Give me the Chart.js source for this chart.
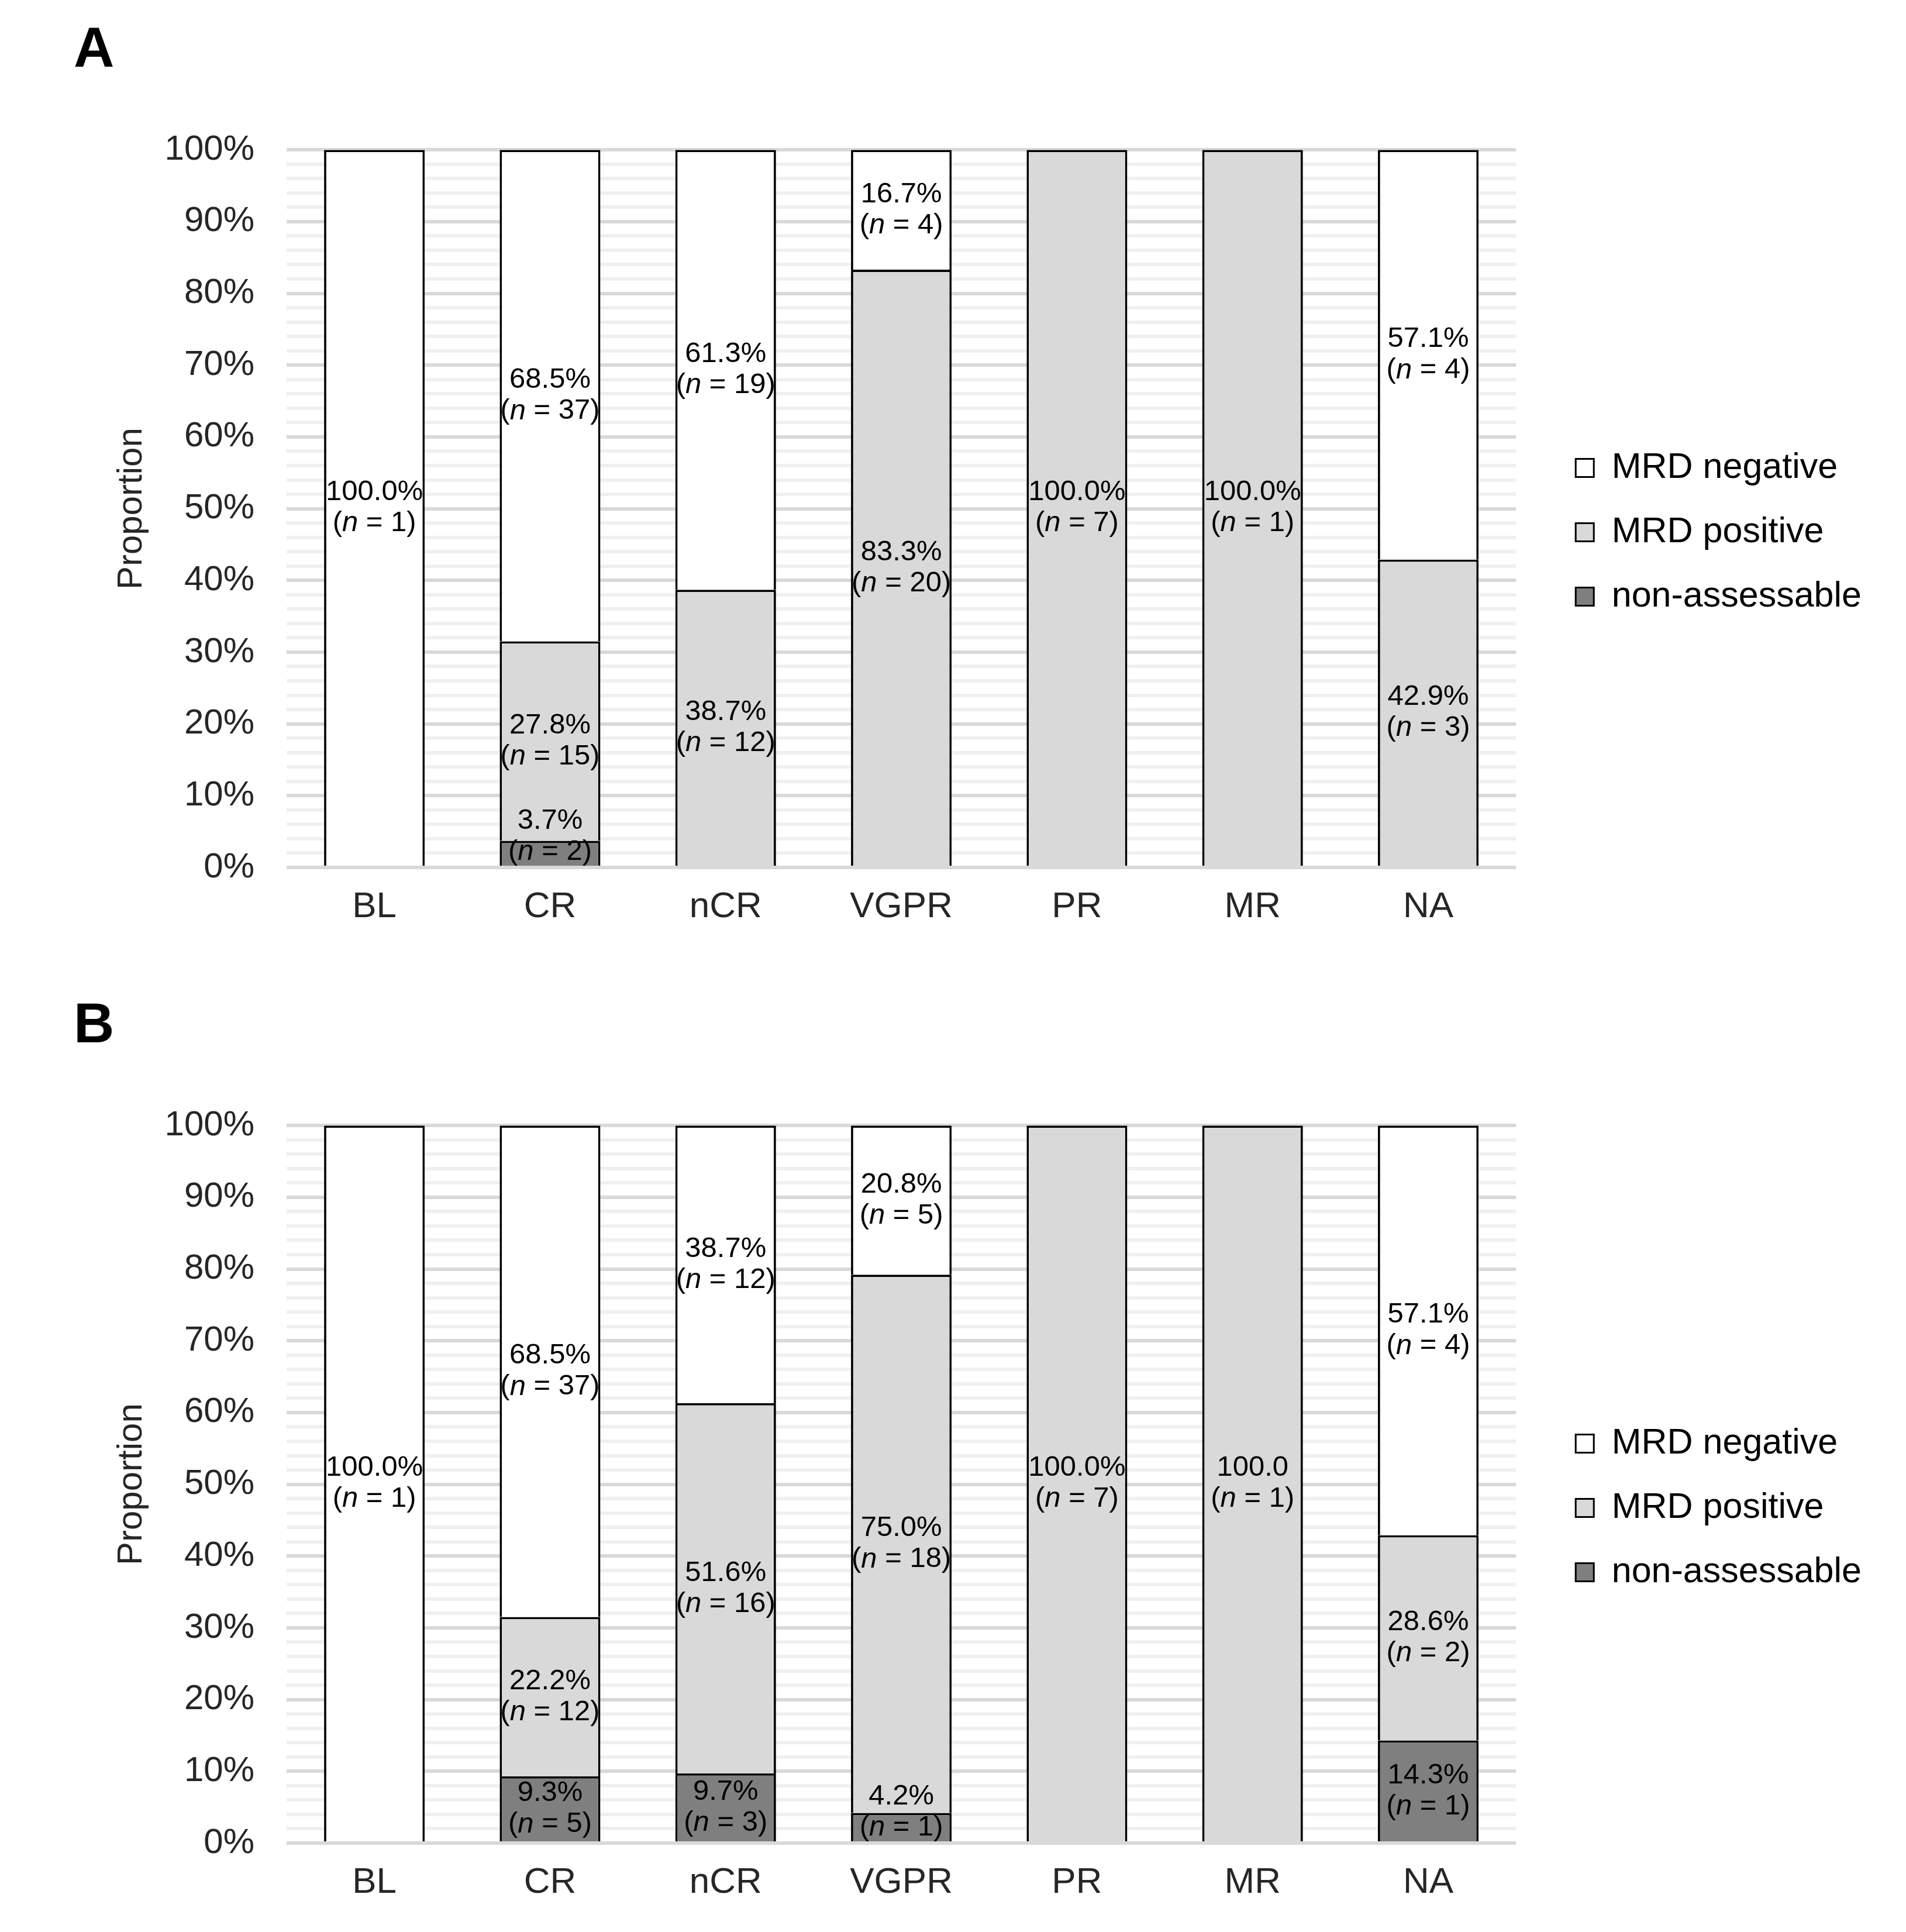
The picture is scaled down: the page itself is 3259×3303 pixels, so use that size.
<!DOCTYPE html>
<html>
<head>
<meta charset="utf-8">
<script src="https://cdn.jsdelivr.net/npm/chart.js@4.4.1/dist/chart.umd.min.js"></script>
<style>
  html, body { margin: 0; padding: 0; background: #ffffff; }
  canvas { position: absolute; left: 0; }
  #panelA { top: 0; }
  #panelB { top: 1668px; }
</style>
</head>
<body>
<canvas id="panelA" width="3259" height="1635"></canvas>
<canvas id="panelB" width="3259" height="1635"></canvas>
<script>
// Categories (response groups)
const categories = ["BL", "CR", "nCR", "VGPR", "PR", "MR", "NA"];

// Panel A - percentages
const negA = [100.0, 68.5, 61.3, 16.7, 0, 0, 57.1];
const posA = [0, 27.8, 38.7, 83.3, 100.0, 100.0, 42.9];
const nonA = [0, 3.7, 0, 0, 0, 0, 0];
// Panel A - patient counts
const nNegA = [1, 37, 19, 4, 0, 0, 4];
const nPosA = [0, 15, 12, 20, 7, 1, 3];
const nNonA = [0, 2, 0, 0, 0, 0, 0];

// Panel B - percentages
const negB = [100.0, 68.5, 38.7, 20.8, 0, 0, 57.1];
const posB = [0, 22.2, 51.6, 75.0, 100.0, 100.0, 28.6];
const nonB = [0, 9.3, 9.7, 4.2, 0, 0, 14.3];
// Panel B - patient counts
const nNegB = [1, 37, 12, 5, 0, 0, 4];
const nPosB = [0, 12, 16, 18, 7, 1, 2];
const nNonB = [0, 5, 3, 1, 0, 0, 1];

// labels printed without the "%" sign in the original figure
const noPercentB = { "MRD positive": ["MR"] };

const yTicks = [0, 10, 20, 30, 40, 50, 60, 70, 80, 90, 100];

const FONT = "'Liberation Sans', Arial, Helvetica, sans-serif";
const TEXT = "#262626";

// Draws "xx.x%" and "(n = k)" in the middle of each stacked segment
const segmentLabels = {
  id: "segmentLabels",
  afterDatasetsDraw(chart, args, opts) {
    const ctx = chart.ctx;
    const zeroY = chart.scales.y.getPixelForValue(0);
    const size = opts.size || 49;
    const lineGap = opts.lineGap || 53;
    const plain = opts.plain || {};

    ctx.save();
    ctx.fillStyle = "#000";
    ctx.textBaseline = "middle";
    chart.data.datasets.forEach((ds, di) => {
      const meta = chart.getDatasetMeta(di);
      meta.data.forEach((bar, i) => {
        const v = ds.data[i];
        if (!v) return;
        const cx = bar.x;
        // keep the label block above the axis for thin segments
        const cy = Math.min((bar.y + bar.base) / 2, zeroY - lineGap);
        const noPct = (plain[ds.label] || []).includes(chart.data.labels[i]);
        const first = v.toFixed(1) + (noPct ? "" : "%");

        ctx.font = size + "px " + FONT;
        ctx.textAlign = "center";
        ctx.fillText(first, cx, cy - lineGap / 2);

        // second line with italic n
        const a = "(", b = "n", c = " = " + ds.counts[i] + ")";
        ctx.font = size + "px " + FONT;
        const wa = ctx.measureText(a).width;
        const wc = ctx.measureText(c).width;
        ctx.font = "italic " + size + "px " + FONT;
        const wb = ctx.measureText(b).width;
        let x = cx - (wa + wb + wc) / 2;
        ctx.textAlign = "left";
        ctx.font = size + "px " + FONT;
        ctx.fillText(a, x, cy + lineGap / 2);
        x += wa;
        ctx.font = "italic " + size + "px " + FONT;
        ctx.fillText(b, x, cy + lineGap / 2);
        x += wb;
        ctx.font = size + "px " + FONT;
        ctx.fillText(c, x, cy + lineGap / 2);
      });
    });
    ctx.restore();
  },
};

function buildPanel(canvasId, letter, neg, pos, non, nNeg, nPos, nNon, plain) {
  const ctx = document.getElementById(canvasId);

  return new Chart(ctx, {
    type: "bar",
    data: {
      labels: categories,
      datasets: [
        {
          label: "non-assessable",
          data: non,
          counts: nNon,
          backgroundColor: "#7f7f7f",
          yAxisID: "y",
        },
        {
          label: "MRD positive",
          data: pos,
          counts: nPos,
          backgroundColor: "#d9d9d9",
          yAxisID: "y",
        },
        {
          label: "MRD negative",
          data: neg,
          counts: nNeg,
          backgroundColor: "#ffffff",
          yAxisID: "y",
        },
      ],
    },
    options: {
      responsive: false,
      animation: false,
      devicePixelRatio: 1,
      layout: {
        padding: { left: 126, right: 66, top: 0, bottom: 47 },
      },
      datasets: {
        bar: {
          categoryPercentage: 1,
          barPercentage: 0.573,
          borderColor: "#000000",
          borderWidth: (c) => (c.raw > 0 ? 3.8 : 0),
        },
      },
      scales: {
        x: {
          stacked: true,
          grid: { display: false, drawTicks: false },
          border: { display: false },
          ticks: {
            color: TEXT,
            padding: 31,
            font: { family: FONT, size: 62 },
          },
          afterFit: (s) => {
            s.height = 105;
          },
        },
        y: {
          stacked: true,
          min: 0,
          max: 100,
          border: { display: false },
          grid: {
            drawTicks: false,
            lineWidth: 6,
            color: (c) =>
              yTicks.includes(Math.round(c.tick.value)) ? "#d9d9d9" : "#f0f0f0",
          },
          ticks: {
            stepSize: 2,
            autoSkip: false,
            padding: 55,
            color: TEXT,
            font: { family: FONT, size: 60 },
            callback: (v) => (yTicks.includes(Math.round(v)) ? Math.round(v) + "%" : ""),
          },
          title: {
            display: true,
            text: "Proportion",
            color: TEXT,
            font: { family: FONT, size: 60 },
            padding: { top: 63, bottom: 26 },
          },
          afterFit: (s) => {
            s.width = 364;
          },
        },
        // empty spacer axis between the plot and the legend
        yR: {
          position: "right",
          display: true,
          grid: { display: false },
          border: { display: false },
          ticks: { display: false },
          afterFit: (s) => {
            s.width = 53;
          },
        },
      },
      plugins: {
        title: {
          display: true,
          text: letter,
          align: "start",
          color: "#000",
          font: { family: FONT, size: 96, weight: "bold" },
          padding: { top: 30, bottom: 111 },
        },
        legend: {
          position: "right",
          reverse: true,
          maxWidth: 700,
          title: {
            display: true,
            text: "",
            font: { size: 10 },
            padding: { top: 110, bottom: 110 },
          },
          labels: {
            boxWidth: 31,
            boxHeight: 31,
            padding: 49,
            color: "#000",
            font: { family: FONT, size: 61 },
            generateLabels: (chart) =>
              Chart.defaults.plugins.legend.labels
                .generateLabels(chart)
                .map((it) => ({ ...it, lineWidth: 3, strokeStyle: "#000" })),
          },
        },
        tooltip: { enabled: false },
        segmentLabels: { size: 49, lineGap: 53, plain: plain },
      },
    },
    plugins: [segmentLabels],
  });
}

buildPanel("panelA", "A", negA, posA, nonA, nNegA, nPosA, nNonA, {});
buildPanel("panelB", "B", negB, posB, nonB, nNegB, nPosB, nNonB, noPercentB);
</script>
</body>
</html>
